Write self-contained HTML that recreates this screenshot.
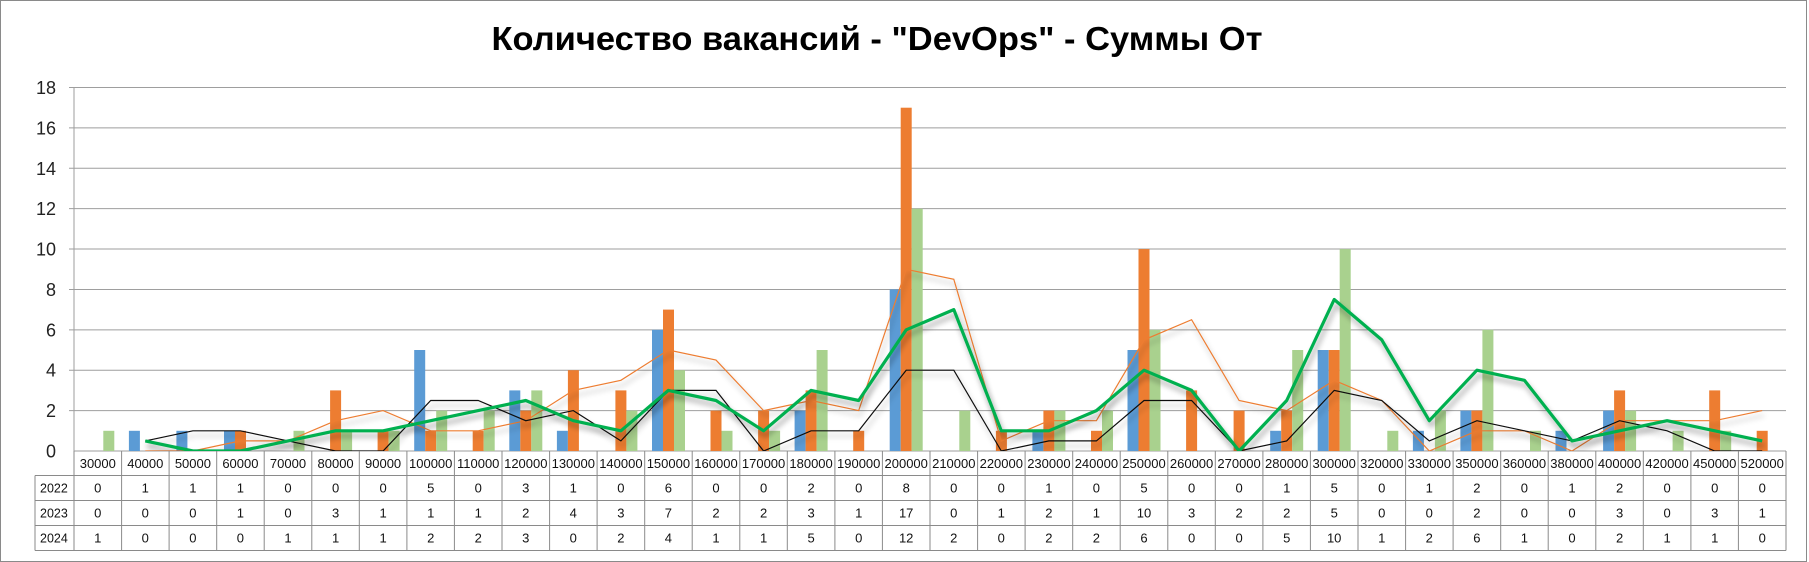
<!DOCTYPE html>
<html><head><meta charset="utf-8"><style>
html,body{margin:0;padding:0;background:#fff;}
svg{display:block;}
</style></head><body>
<svg id="c" width="1809" height="562" xmlns="http://www.w3.org/2000/svg" font-family="Liberation Sans, sans-serif"></svg>
<script>
const cats=[30000,40000,50000,60000,70000,80000,90000,100000,110000,120000,130000,140000,150000,160000,170000,180000,190000,200000,210000,220000,230000,240000,250000,260000,270000,280000,300000,320000,330000,350000,360000,380000,400000,420000,450000,520000];
const d22=[0,1,1,1,0,0,0,5,0,3,1,0,6,0,0,2,0,8,0,0,1,0,5,0,0,1,5,0,1,2,0,1,2,0,0,0];
const d23=[0,0,0,1,0,3,1,1,1,2,4,3,7,2,2,3,1,17,0,1,2,1,10,3,2,2,5,0,0,2,0,0,3,0,3,1];
const d24=[1,0,0,0,1,1,1,2,2,3,0,2,4,1,1,5,0,12,2,0,2,2,6,0,0,5,10,1,2,6,1,0,2,1,1,0];
const L=74,R=1786,T=87.5,B=451,n=cats.length,cw=(R-L)/n,u=(B-T)/18;
let s='';
s+='<defs><clipPath id="pc"><rect x="'+L+'" y="'+(T-5)+'" width="'+(R-L)+'" height="'+(B-T+5)+'"/></clipPath>';
s+='<filter id="sh" x="-5%" y="-20%" width="110%" height="150%"><feGaussianBlur in="SourceAlpha" stdDeviation="3"/><feOffset dx="2" dy="5"/><feComponentTransfer><feFuncA type="linear" slope="0.35"/></feComponentTransfer><feMerge><feMergeNode/><feMergeNode in="SourceGraphic"/></feMerge></filter></defs>';
s+='<rect x="0.5" y="0.5" width="1806" height="561" fill="#fff" stroke="#8a8a8a"/>';
s+='<text x="877" y="50" text-anchor="middle" font-family="Liberation Sans Narrow, Liberation Sans, sans-serif" font-weight="bold" font-size="33" textLength="771" lengthAdjust="spacingAndGlyphs">Количество вакансий - "DevOps" - Суммы От</text>';
for(let k=0;k<=9;k++){const y=B-k*2*u;
 s+='<line x1="'+(k==0?L:L-5)+'" x2="'+R+'" y1="'+y+'" y2="'+y+'" stroke="#9e9e9e" stroke-width="1"/>';
 s+='<text x="56" y="'+(y+6.5)+'" text-anchor="end" font-size="18" fill="#222">'+(k*2)+'</text>';}
s+='<line x1="'+L+'" x2="'+L+'" y1="'+T+'" y2="'+B+'" stroke="#9e9e9e"/>';
const cols=['#5b9bd5','#ed7d31','#a9d18e'];
[d22,d23,d24].forEach((d,j)=>{d.forEach((v,i)=>{if(v>0){const x=L+i*cw+7.3+j*11;s+='<rect x="'+x.toFixed(1)+'" y="'+(B-v*u).toFixed(1)+'" width="11" height="'+(v*u).toFixed(1)+'" fill="'+cols[j]+'"/>';}});});
function ma(d){let p=[];for(let i=1;i<n;i++){p.push((L+(i+0.5)*cw).toFixed(1)+','+(B-(d[i-1]+d[i])/2*u).toFixed(1));}return p.join(' ');}
s+='<g clip-path="url(#pc)">';
s+='<polyline points="'+ma(d23)+'" fill="none" stroke="#ed7d31" stroke-width="1.2" filter="url(#sh)"/>';
s+='<polyline points="'+ma(d22)+'" fill="none" stroke="#111" stroke-width="1.2" filter="url(#sh)"/>';
s+='<polyline points="'+ma(d24)+'" fill="none" stroke="#00b050" stroke-width="3.2" stroke-linejoin="round" filter="url(#sh)"/>';
s+='</g>';
const rows=[475.5,500.5,525.5,550.5];
const g='#8a8a8a';
s+='<line x1="'+L+'" x2="'+L+'" y1="'+B+'" y2="550.5" stroke="'+g+'"/>';
s+='<line x1="35" x2="35" y1="475.5" y2="550.5" stroke="'+g+'"/>';
for(let i=1;i<=n;i++){const x=L+i*cw;s+='<line x1="'+x.toFixed(1)+'" x2="'+x.toFixed(1)+'" y1="'+B+'" y2="550.5" stroke="'+g+'"/>';}
rows.forEach(y=>{s+='<line x1="35" x2="'+R+'" y1="'+y+'" y2="'+y+'" stroke="'+g+'"/>';});
cats.forEach((c,i)=>{const x=L+(i+0.5)*cw;s+='<text x="'+x.toFixed(1)+'" y="468" text-anchor="middle" font-size="13" fill="#111">'+c+'</text>';});
const yrs=['2022','2023','2024'];
[d22,d23,d24].forEach((d,j)=>{const y=rows[j]+17;
 s+='<text x="40" y="'+y+'" font-size="12.5" fill="#111">'+yrs[j]+'</text>';
 d.forEach((v,i)=>{const x=L+(i+0.5)*cw;s+='<text x="'+x.toFixed(1)+'" y="'+y+'" text-anchor="middle" font-size="13" fill="#111">'+v+'</text>';});});
document.getElementById('c').innerHTML=s;
</script>
</body></html>
